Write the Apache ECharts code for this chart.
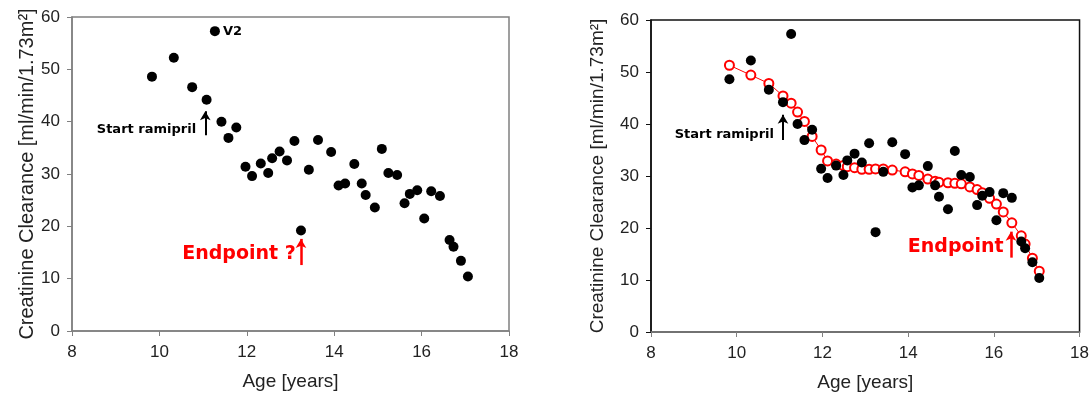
<!DOCTYPE html>
<html>
<head>
<meta charset="utf-8">
<title>Creatinine clearance vs age</title>
<script src="https://cdn.jsdelivr.net/npm/echarts@6/dist/echarts.min.js"></script>
<style>
  html, body { margin: 0; padding: 0; background: #fff }
  #chart { width: 1092px; height: 400px }
</style>
</head>
<body>
<div id="chart"></div>
<script>
// measured values (age in years, clearance in ml/min/1.73m2)
const ages = [9.83, 10.33, 10.75, 11.08, 11.27, 11.42, 11.58, 11.76, 11.97, 12.12,
  12.32, 12.49, 12.58, 12.75, 12.92, 13.09, 13.24, 13.42, 13.63, 13.93,
  14.10, 14.25, 14.46, 14.63, 14.72, 14.93, 15.09, 15.24, 15.44, 15.61,
  15.73, 15.90, 16.06, 16.22, 16.42, 16.64, 16.73, 16.90, 17.06]
const clearance = [48.6, 52.2, 46.6, 44.2, 57.3, 40.0, 36.9, 38.9, 31.4, 29.6,
  32.0, 30.2, 33.0, 34.3, 32.6, 36.3, 19.2, 30.8, 36.5, 34.2,
  27.8, 28.2, 31.9, 28.2, 26.0, 23.6, 34.8, 30.2, 29.8, 24.4,
  26.2, 26.9, 21.5, 26.7, 25.8, 17.4, 16.1, 13.4, 10.4]
// smoothed fit shown on the right panel
const fitValues = [51.3, 49.4, 47.8, 45.4, 44.0, 42.3, 40.5, 37.6, 35.0, 32.9,
  32.3, 32.0, 31.8, 31.6, 31.3, 31.3, 31.35, 31.35, 31.15, 30.8,
  30.4, 30.1, 29.4, 29.0, 28.8, 28.7, 28.6, 28.5, 27.9, 27.4,
  26.8, 25.7, 24.6, 23.1, 21.0, 18.5, 16.9, 14.2, 11.7]
const v2Index = 4
const xTicks = [8, 18, 2]
const yTicks = [0, 60, 10]

const yTitle = 'Creatinine Clearance [ml/min/1.73m²]'
const xTitle = 'Age [years]'

const points = ages.map((a, i) => [a, clearance[i]])
const fitPoints = ages.map((a, i) => [a, fitValues[i]])
const labelFont = 'Liberation Sans, Arial, sans-serif'
const noteFont = 'DejaVu Sans, Verdana, sans-serif'

function xAxisFor(gridIndex, lineColor) {
  return {
    gridIndex, type: 'value', min: xTicks[0], max: xTicks[1], interval: xTicks[2],
    name: xTitle, nameLocation: 'middle', nameGap: 41,
    nameTextStyle: { fontSize: 19, color: '#222', fontFamily: labelFont },
    axisLine: { lineStyle: { color: lineColor, width: 1.5 } },
    axisTick: { length: 5, lineStyle: { color: lineColor } },
    axisLabel: { margin: 13, fontSize: 17, color: '#222', fontFamily: labelFont },
    splitLine: { show: false }
  }
}

function yAxisFor(gridIndex, lineColor, gap, size) {
  return {
    gridIndex, type: 'value', min: yTicks[0], max: yTicks[1], interval: yTicks[2],
    name: yTitle, nameLocation: 'middle', nameGap: gap, nameRotate: 90,
    nameTextStyle: { fontSize: size, color: '#222', fontFamily: labelFont },
    axisLine: { show: true, lineStyle: { color: lineColor, width: 1.5 } },
    axisTick: { show: true, length: 5, lineStyle: { color: lineColor } },
    axisLabel: { margin: 12, fontSize: 17, color: '#222', fontFamily: labelFont },
    splitLine: { show: false }
  }
}

// text annotation anchored in data coordinates
function note(coord, text, color, size) {
  return {
    coord, symbolSize: 0,
    label: { show: true, formatter: text, color, fontSize: size, fontWeight: 'bold',
      fontFamily: noteFont, position: 'inside', align: 'right', verticalAlign: 'middle' }
  }
}

// vertical arrow from y0 up to y1
function arrow(x, y0, y1, color, width) {
  return [{ coord: [x, y0], lineStyle: { color, width, type: 'solid' } }, { coord: [x, y1] }]
}

const leftData = points.map((p, i) => i === v2Index
  ? { value: p, label: { show: true, formatter: 'V2', position: 'right', distance: 3,
      color: '#000', fontWeight: 'bold', fontSize: 13, fontFamily: noteFont } }
  : p)

const option = {
  animation: false,
  grid: [
    { left: 72, top: 17, width: 437, height: 314, show: true, borderColor: '#808080', borderWidth: 1.5, backgroundColor: 'transparent' },
    { left: 651, top: 20, width: 431, height: 312, show: true, borderColor: '#111', borderWidth: 1.5, backgroundColor: 'transparent' }
  ],
  xAxis: [xAxisFor(0, '#808080'), xAxisFor(1, '#808080')],
  yAxis: [yAxisFor(0, '#808080', 31, 20), yAxisFor(1, '#111', 44, 19)],
  series: [
    {
      type: 'scatter', xAxisIndex: 0, yAxisIndex: 0,
      data: leftData, symbolSize: 10,
      itemStyle: { color: '#000', opacity: 1 },
      markPoint: {
        silent: true,
        data: [
          note([10.84, 38.5], 'Start ramipril', '#000', 13),
          note([13.12, 14.75], 'Endpoint ?', '#ff0000', 19)
        ]
      },
      markLine: {
        silent: true, symbol: ['none', 'arrow'], symbolSize: [8, 9],
        label: { show: false },
        data: [
          arrow(11.05, 37.4, 42.0, '#000', 2),
          arrow(13.24, 12.6, 17.6, '#ff0000', 2.5)
        ]
      }
    },
    {
      type: 'line', xAxisIndex: 1, yAxisIndex: 1,
      data: fitPoints, symbol: 'emptyCircle', symbolSize: 9,
      lineStyle: { color: '#ff0000', width: 1 },
      itemStyle: { color: '#ff0000', borderWidth: 1 },
      z: 2
    },
    {
      type: 'scatter', xAxisIndex: 1, yAxisIndex: 1,
      data: points, symbolSize: 10,
      itemStyle: { color: '#000', opacity: 1 },
      z: 3,
      markPoint: {
        silent: true,
        data: [
          note([10.87, 37.9], 'Start ramipril', '#000', 13),
          note([16.23, 16.4], 'Endpoint', '#ff0000', 19)
        ]
      },
      markLine: {
        silent: true, symbol: ['none', 'arrow'], symbolSize: [8, 9],
        label: { show: false },
        data: [
          arrow(11.08, 36.9, 41.8, '#000', 2),
          arrow(16.40, 14.3, 19.3, '#ff0000', 2.5)
        ]
      }
    }
  ]
}

const chart = echarts.init(document.getElementById('chart'))
chart.setOption(option)
</script>
</body>
</html>
